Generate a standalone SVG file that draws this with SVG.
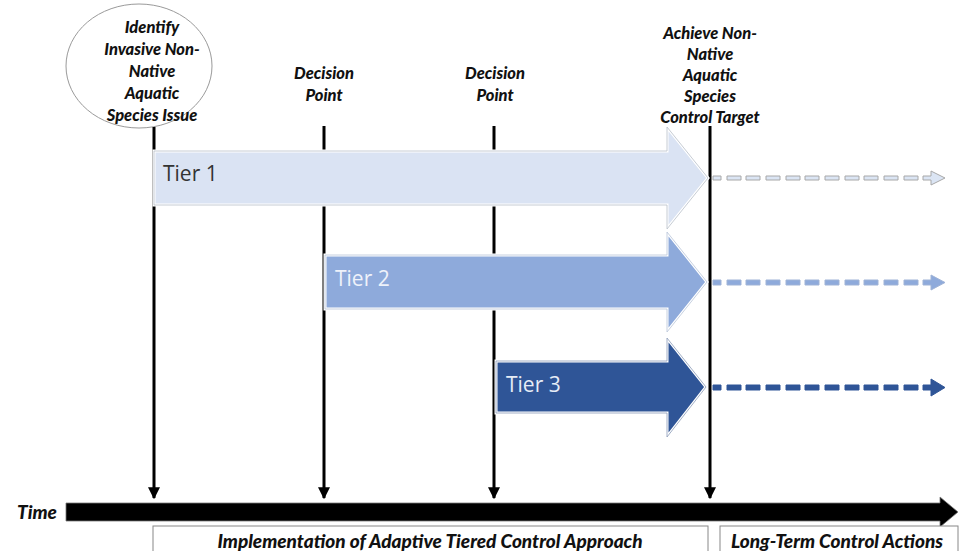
<svg xmlns="http://www.w3.org/2000/svg" width="961" height="551" viewBox="0 0 961 551">
<defs>
<style>
.lbl{font-family:Lato,"Open Sans",sans-serif;font-weight:900;font-style:italic;font-size:16.5px;fill:#111;text-anchor:middle}
.tier{font-family:"Open Sans","Noto Sans",sans-serif;font-size:21px}
.vl{stroke:#000;stroke-width:3;fill:none}
.bot{font-family:Lato,"Open Sans",sans-serif;font-weight:900;font-style:italic;font-size:19px;fill:#111;text-anchor:middle}
</style>
<marker id="ah" viewBox="0 0 10 10" refX="9" refY="5" markerWidth="4" markerHeight="4.5" orient="auto" markerUnits="strokeWidth">
<path d="M0,0 L10,5 L0,10 z" fill="#000"/>
</marker>
</defs>
<rect width="961" height="551" fill="#fff"/>

<g id="identify">
<ellipse cx="139" cy="66" rx="73" ry="62" fill="#fff" stroke="#9a9a9a" stroke-width="1"/>
<text class="lbl" x="152" y="33">Identify</text>
<text class="lbl" x="152" y="55">Invasive Non-</text>
<text class="lbl" x="152" y="77">Native</text>
<text class="lbl" x="152" y="99">Aquatic</text>
<text class="lbl" x="152" y="121">Species Issue</text>
</g>
<g id="decision1">
<text class="lbl" x="324" y="79">Decision</text>
<text class="lbl" x="324" y="101">Point</text>
</g>
<g id="decision2">
<text class="lbl" x="495" y="79">Decision</text>
<text class="lbl" x="495" y="101">Point</text>
</g>
<g id="target">
<text class="lbl" x="710" y="39">Achieve Non-</text>
<text class="lbl" x="710" y="60">Native</text>
<text class="lbl" x="710" y="81">Aquatic</text>
<text class="lbl" x="710" y="102">Species</text>
<text class="lbl" x="710" y="123">Control Target</text>
</g>

<g id="connectors">
<line class="vl" x1="154" y1="127" x2="154" y2="498" marker-end="url(#ah)"/>
<line class="vl" x1="324" y1="126" x2="324" y2="498" marker-end="url(#ah)"/>
<line class="vl" x1="494" y1="126" x2="494" y2="498" marker-end="url(#ah)"/>
<line class="vl" x1="710" y1="126" x2="710" y2="498" marker-end="url(#ah)"/>
<g stroke-width="1" stroke="#a8a8a8">
<path d="M713,176 h8 v4 h-8z M727,176 h14 v4 h-14z M746,176 h14 v4 h-14z M766,176 h14 v4 h-14z M786,176 h14 v4 h-14z M805,176 h14 v4 h-14z M825,176 h14 v4 h-14z M845,176 h14 v4 h-14z M864,176 h14 v4 h-14z M884,176 h14 v4 h-14z M904,176 h14 v4 h-14z M923,176 h8 v-5 l14,7 l-14,7 v-5 h-8z" fill="#dbe5f4"/>
<path d="M713,280 h8 v5 h-8z M727,280 h14 v5 h-14z M746,280 h14 v5 h-14z M766,280 h14 v5 h-14z M786,280 h14 v5 h-14z M805,280 h14 v5 h-14z M825,280 h14 v5 h-14z M845,280 h14 v5 h-14z M864,280 h14 v5 h-14z M884,280 h14 v5 h-14z M904,280 h14 v5 h-14z M923,280 h8 v-5 l14,7.5 l-14,7.5 v-5 h-8z" fill="#8eaadb" stroke="#9fb3d6"/>
<path d="M713,385 h8 v5 h-8z M727,385 h14 v5 h-14z M746,385 h14 v5 h-14z M766,385 h14 v5 h-14z M786,385 h14 v5 h-14z M805,385 h14 v5 h-14z M825,385 h14 v5 h-14z M845,385 h14 v5 h-14z M864,385 h14 v5 h-14z M884,385 h14 v5 h-14z M904,385 h14 v5 h-14z M923,385 h8 v-6 l14,8.5 l-14,8.5 v-6 h-8z" fill="#2f5597" stroke="#2f5597"/>
</g>
</g>

<g id="tier1">
<path d="M154,151 H667 V127 L708,178 L667,229 V205 H154 Z" fill="#dae3f3" stroke="#fff" stroke-width="3"/>
<path d="M154,151 H667 V127 L708,178 L667,229 V205 H154 Z" fill="none" stroke="#b8bfc9" stroke-width="0.8"/>
<text class="tier" x="163" y="181" fill="#333">Tier 1</text>
</g>
<g id="tier2">
<path d="M325,255 H667 V232 L707,282 L667,332 V309 H325 Z" fill="#8eaadb" stroke="#fff" stroke-width="3"/>
<path d="M325,255 H667 V232 L707,282 L667,332 V309 H325 Z" fill="none" stroke="#b8c4d8" stroke-width="0.8"/>
<text class="tier" x="335" y="286" fill="#eef2fa">Tier 2</text>
</g>
<g id="tier3">
<path d="M496,361 H667 V338 L706,387 L667,437 V413 H496 Z" fill="#2f5597" stroke="#fff" stroke-width="3"/>
<path d="M496,361 H667 V338 L706,387 L667,437 V413 H496 Z" fill="none" stroke="#8a9ab8" stroke-width="0.8"/>
<text class="tier" x="506" y="392" fill="#e6ecf6">Tier 3</text>
</g>

<g id="time">
<path d="M66,503 H940 V497 L958,512 L940,527 V521 H66 Z" fill="#000" stroke="#777" stroke-width="0.8"/>
<text x="17" y="519" font-family="Lato,'Open Sans',sans-serif" font-weight="900" font-style="italic" font-size="19" fill="#111">Time</text>
</g>
<g id="implementation">
<rect x="153" y="526" width="555" height="30" fill="#fff" stroke="#888" stroke-width="1"/>
<text class="bot" x="430" y="548">Implementation of Adaptive Tiered Control Approach</text>
</g>
<g id="longterm">
<rect x="720" y="526" width="238" height="30" fill="#fff" stroke="#888" stroke-width="1"/>
<text class="bot" x="837" y="548">Long-Term Control Actions</text>
</g>
</svg>
